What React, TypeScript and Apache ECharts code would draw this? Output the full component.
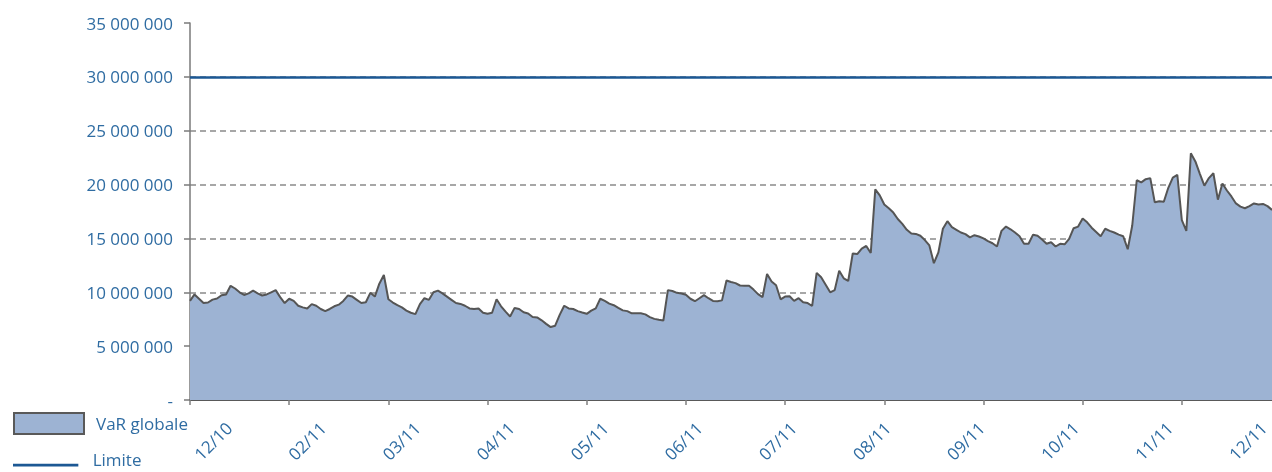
import React, { useEffect, useRef } from 'react';
import * as echarts from 'echarts';

const monthLabels = ['12/10', '02/11', '03/11', '04/11', '05/11', '06/11', '07/11', '08/11', '09/11', '10/11', '11/11', '12/11'];
const yMax = 35000000;
const yStep = 5000000;
const limitValue = 30000000;
const pointsPerMonthTick = 22;

// VaR globale, in millions, one value per trading day
const varMillions = [
  9.2, 9.8, 9.4, 9.0, 9.05, 9.32, 9.42, 9.72, 9.8, 10.6,
  10.35, 10.0, 9.75, 9.9, 10.15, 9.9, 9.7, 9.8, 10.0, 10.2,
  9.55, 9.0, 9.4, 9.2, 8.75, 8.6, 8.5, 8.9, 8.75, 8.45,
  8.25, 8.45, 8.7, 8.85, 9.2, 9.7, 9.6, 9.3, 9.0, 9.07,
  9.95, 9.6, 10.8, 11.6, 9.35, 9.05, 8.8, 8.6, 8.3, 8.1,
  7.97, 8.9, 9.45, 9.3, 10.0, 10.15, 9.9, 9.6, 9.3, 9.0,
  8.92, 8.75, 8.5, 8.45, 8.5, 8.1, 8.0, 8.1, 9.35, 8.7,
  8.2, 7.75, 8.55, 8.45, 8.14, 8.03, 7.7, 7.67, 7.4, 7.07,
  6.77, 6.9, 7.9, 8.75, 8.5, 8.45, 8.25, 8.12, 8.0, 8.3,
  8.51, 9.4, 9.2, 8.95, 8.8, 8.55, 8.32, 8.25, 8.05, 8.05,
  8.05, 7.95, 7.7, 7.53, 7.45, 7.38, 10.2, 10.12, 9.95, 9.88,
  9.78, 9.4, 9.17, 9.45, 9.73, 9.45, 9.2, 9.17, 9.25, 11.1,
  10.95, 10.85, 10.63, 10.6, 10.6, 10.25, 9.83, 9.55, 11.7, 11.0,
  10.65, 9.35, 9.6, 9.63, 9.2, 9.45, 9.07, 9.0, 8.73, 11.8,
  11.4, 10.7, 10.0, 10.2, 12.0, 11.3, 11.05, 13.6, 13.55, 14.05,
  14.3, 13.65, 19.56, 19.0, 18.15, 17.8, 17.4, 16.8, 16.35, 15.8,
  15.45, 15.42, 15.25, 14.85, 14.35, 12.7, 13.7, 15.9, 16.6, 16.05,
  15.8, 15.55, 15.4, 15.1, 15.3, 15.18, 15.0, 14.75, 14.55, 14.25,
  15.7, 16.1, 15.85, 15.55, 15.2, 14.5, 14.5, 15.35, 15.25, 14.9,
  14.5, 14.65, 14.25, 14.5, 14.45, 14.95, 15.95, 16.1, 16.85, 16.5,
  16.0, 15.6, 15.2, 15.9, 15.7, 15.55, 15.35, 15.2, 14.0, 16.2,
  20.4, 20.2, 20.5, 20.6, 18.35, 18.45, 18.4, 19.7, 20.65, 20.9,
  16.7, 15.7, 22.9, 22.15, 21.0, 19.9, 20.6, 21.05, 18.6, 20.1,
  19.45, 18.9, 18.25, 17.95, 17.8, 18.0, 18.25, 18.15, 18.2, 18.0, 17.65,
];

const LABEL = '#2f6ca2';
const LIMIT = '#1c5894';
const FILL = '#9db3d3';
const LINE = '#555555';
const FONT = 'Open Sans';

export default function App() {
  const ref = useRef<HTMLDivElement>(null);
  useEffect(() => {
    const chart = echarts.init(ref.current as HTMLDivElement, null, { renderer: 'svg' });
    const dayIndex = varMillions.map((_, i) => String(i));
    const fmt = (v: number) => (v === 0 ? '-' : String(v).replace(/\B(?=(\d{3})+(?!\d))/g, ' '));
    chart.setOption({
      animation: false,
      textStyle: { fontFamily: FONT },
      grid: [
        { left: 190, right: 0, top: 23, bottom: 72 },
        { left: 229, width: 1038, top: 23, bottom: 72 },
      ],
      xAxis: [
        {
          type: 'category',
          gridIndex: 0,
          data: dayIndex,
          boundaryGap: false,
          axisLine: { lineStyle: { color: '#595959', width: 2 } },
          axisTick: { interval: pointsPerMonthTick - 1, length: 5, lineStyle: { color: '#7f7f7f', width: 1.5 } },
          axisLabel: { show: false },
          splitLine: { show: false },
        },
        {
          type: 'category',
          gridIndex: 1,
          data: monthLabels,
          boundaryGap: false,
          axisLine: { show: false },
          axisTick: { show: false },
          axisLabel: { interval: 0, rotate: 45, margin: 25, fontSize: 17, color: LABEL, fontFamily: FONT },
          splitLine: { show: false },
        },
      ],
      yAxis: [
        {
          type: 'value',
          gridIndex: 0,
          min: 0,
          max: yMax,
          interval: yStep,
          axisLine: { show: true, lineStyle: { color: '#7a7a7a', width: 1.5 } },
          axisTick: { show: true, length: 6, lineStyle: { color: '#7a7a7a', width: 1.5 } },
          axisLabel: { margin: 17, fontSize: 17, color: LABEL, fontFamily: FONT, formatter: fmt },
          splitLine: { show: true, showMaxLine: false, lineStyle: { color: '#8a8a8a', type: [6, 4], width: 1.5 } },
        },
        { type: 'value', gridIndex: 1, show: false },
      ],
      legend: [
        {
          left: 13,
          top: 412,
          padding: 0,
          selectedMode: false,
          itemWidth: 70,
          itemHeight: 21,
          data: [{ name: 'VaR globale', icon: 'rect', itemStyle: { color: FILL, borderColor: '#595959', borderWidth: 2 } }],
          textStyle: { fontSize: 17, color: LABEL, fontFamily: FONT, padding: [3, 0, 0, 7] },
        },
        {
          left: 13,
          top: 451,
          padding: 0,
          selectedMode: false,
          itemWidth: 70,
          itemHeight: 14,
          data: [{ name: 'Limite', icon: 'path://M0,0L0,0Z M0,12H70V15H0Z', itemStyle: { color: LIMIT, borderWidth: 0 } }],
          textStyle: { fontSize: 17, lineHeight: 14, color: LABEL, fontFamily: FONT, padding: [0, 0, 0, 7] },
        },
      ],
      series: [
        {
          name: 'VaR globale',
          type: 'line',
          xAxisIndex: 0,
          yAxisIndex: 0,
          data: varMillions.map((v) => v * 1e6),
          symbol: 'none',
          showSymbol: false,
          lineStyle: { color: LINE, width: 2 },
          itemStyle: { color: FILL },
          areaStyle: { color: FILL, opacity: 1 },
          z: 2,
        },
        {
          name: 'Limite',
          type: 'line',
          xAxisIndex: 0,
          yAxisIndex: 0,
          data: [],
          symbol: 'none',
          showSymbol: false,
          lineStyle: { color: LIMIT, width: 3 },
          itemStyle: { color: LIMIT },
          z: 5,
          markLine: {
            silent: true,
            symbol: ['none', 'none'],
            label: { show: false },
            lineStyle: { color: LIMIT, width: 2.5, type: 'solid' },
            data: [{ yAxis: limitValue }],
          },
        },
      ],
    });
    return () => chart.dispose();
  }, []);
  return <div ref={ref} style={{ position: 'fixed', left: 0, top: 0, width: 1272, height: 472 }} />;
}
